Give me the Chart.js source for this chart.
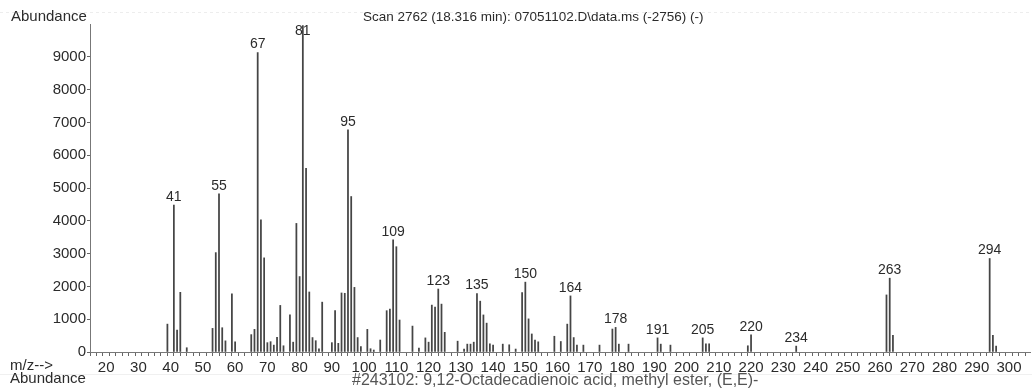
<!DOCTYPE html>
<html>
<head>
<meta charset="utf-8">
<script src="https://cdn.jsdelivr.net/npm/chart.js@4.4.1/dist/chart.umd.min.js"></script>
<style>
  html, body { margin: 0; padding: 0; background: #fff; }
</style>
</head>
<body>
<canvas id="spectrum" width="1032" height="388"></canvas>
<script>
// m/z values of the fragment ions and their abundance
const massCharge = [39, 41, 42, 43, 45, 53, 54, 55, 56, 57, 59, 60, 65, 66, 67, 68, 69, 70, 71, 72,
  73, 74, 75, 77, 78, 79, 80, 81, 82, 83, 84, 85, 86, 87, 90, 91, 92, 93, 94, 95,
  96, 97, 98, 99, 101, 102, 103, 105, 107, 108, 109, 110, 111, 115, 117, 119, 120, 121, 122, 123,
  124, 125, 129, 131, 132, 133, 134, 135, 136, 137, 138, 139, 140, 143, 145, 147, 149, 150, 151, 152,
  153, 154, 159, 161, 163, 164, 165, 166, 168, 173, 177, 178, 179, 182, 191, 192, 195, 205, 206, 207,
  219, 220, 234, 262, 263, 264, 294, 295, 296];
const abundance = [850, 4480, 670, 1820, 130, 720, 3030, 4820, 740, 340, 1770, 310, 530, 690, 9130, 4030, 2870, 285, 315, 210,
  450, 1420, 190, 1130, 300, 3920, 2300, 9950, 5600, 1830, 440, 345, 95, 1520, 285, 1260, 265, 1800, 1790, 6770,
  4740, 1970, 440, 165, 690, 100, 60, 365, 1260, 1310, 3420, 3210, 975, 790, 120, 430, 300, 1430, 1370, 1920,
  1460, 600, 330, 90, 240, 240, 300, 1780, 1550, 1130, 880, 250, 210, 240, 220, 90, 1810, 2130, 1010, 550,
  360, 310, 480, 320, 850, 1710, 440, 210, 210, 210, 700, 750, 240, 240, 430, 240, 210, 430, 250, 250,
  190, 520, 180, 1740, 2250, 510, 2850, 510, 180];

// peaks that get their m/z printed above them
const labelledPeaks = [41, 55, 67, 81, 95, 109, 123, 135, 150, 164, 178, 191, 205, 220, 234, 263, 294];

const scanTitle = 'Scan 2762 (18.316 min): 07051102.D\\data.ms (-2756) (-)';
const libraryHit = '#243102: 9,12-Octadecadienoic acid, methyl ester, (E,E)-';

const FONT = "'Liberation Sans', Arial, sans-serif";
const INK = '#2b2b2b';

const points = massCharge.map((mz, i) => ({ x: mz, y: abundance[i] }));

const annotations = {
  id: 'annotations',
  beforeDraw(chart) {
    const ctx = chart.ctx;
    ctx.save();
    // faint rules from the printout
    ctx.strokeStyle = 'rgba(0,0,0,0.07)';
    ctx.setLineDash([3, 3]);
    ctx.beginPath();
    ctx.moveTo(0, 12.5); ctx.lineTo(1032, 12.5);
    ctx.stroke();
    ctx.setLineDash([]);
    ctx.strokeStyle = 'rgba(0,0,0,0.06)';
    ctx.beginPath();
    ctx.moveTo(0, 374.5); ctx.lineTo(1032, 374.5);
    ctx.stroke();
    ctx.restore();
  },
  afterDatasetsDraw(chart) {
    const ctx = chart.ctx;
    const xs = chart.scales.x, ys = chart.scales.y;
    ctx.save();
    ctx.fillStyle = INK;
    ctx.textBaseline = 'middle';
    ctx.textAlign = 'left';
    ctx.font = '15px ' + FONT;
    ctx.fillText('Abundance', 11, 17);
    ctx.fillText('m/z-->', 10, 366);
    ctx.fillText('Abundance', 10, 379);
    ctx.font = '13.5px ' + FONT;
    ctx.fillText(scanTitle, 363, 17);
    ctx.fillStyle = '#555';
    ctx.font = '16px ' + FONT;
    ctx.fillText(libraryHit, 352, 381);

    // m/z labels over the main peaks
    ctx.fillStyle = INK;
    ctx.font = '14px ' + FONT;
    ctx.textAlign = 'center';
    ctx.textBaseline = 'bottom';
    labelledPeaks.forEach(mz => {
      const v = abundance[massCharge.indexOf(mz)];
      const px = xs.getPixelForValue(mz);
      const py = Math.max(ys.getPixelForValue(v) - 1, 38);
      ctx.fillText(String(mz), px, py);
    });
    ctx.restore();
  }
};

new Chart(document.getElementById('spectrum'), {
  type: 'bar',
  data: {
    datasets: [{
      data: points,
      backgroundColor: '#454545',
      barThickness: 1.1
    }]
  },
  options: {
    responsive: false,
    animation: false,
    devicePixelRatio: 1,
    layout: { padding: { top: 24, right: 2, left: 0, bottom: 0 } },
    plugins: {
      legend: { display: false },
      tooltip: { enabled: false }
    },
    scales: {
      x: {
        type: 'linear',
        min: 16,
        max: 305.5,
        afterFit: s => { s.height = 36; },
        border: { color: '#777', width: 1 },
        grid: { drawOnChartArea: false, tickLength: 4, color: '#666' },
        ticks: {
          stepSize: 2,
          autoSkip: false,
          maxRotation: 0,
          includeBounds: false,
          padding: 3,
          color: INK,
          font: { family: FONT, size: 15 },
          callback: v => (v % 10 === 0 ? String(v) : '')
        }
      },
      y: {
        min: 0,
        max: 10000,
        afterFit: s => { s.width = 90; },
        border: { color: '#777', width: 1 },
        grid: {
          drawOnChartArea: false,
          tickLength: 3,
          color: ctx => (ctx.tick && ctx.tick.value >= 10000 ? 'rgba(0,0,0,0)' : '#666')
        },
        ticks: {
          stepSize: 1000,
          includeBounds: false,
          padding: 1,
          color: INK,
          font: { family: FONT, size: 15 },
          callback: v => (v >= 10000 ? '' : String(v))
        }
      }
    }
  },
  plugins: [annotations]
});
</script>
</body>
</html>
